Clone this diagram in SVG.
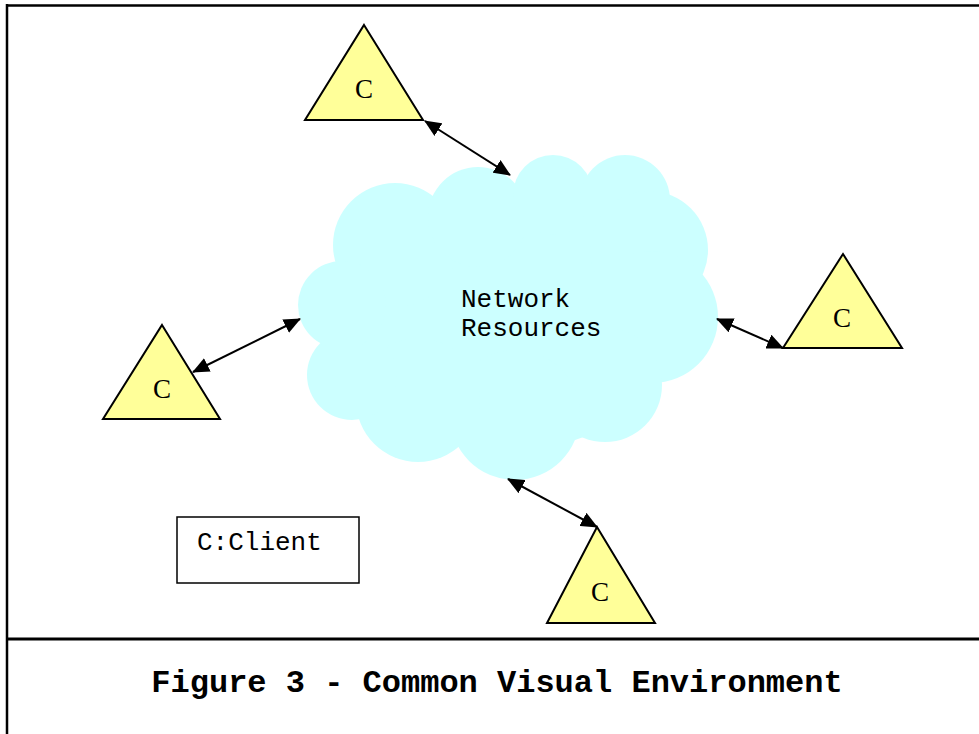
<svg xmlns="http://www.w3.org/2000/svg" width="979" height="734" viewBox="0 0 979 734">
<defs>
<style>
.frame{stroke:#000;fill:none}
.tri{fill:#FFFF99;stroke:#000;stroke-width:2;stroke-linejoin:miter}
.cloud{fill:#CCFFFF;stroke:none}
.conn{stroke:#000;stroke-width:2;fill:none;marker-start:url(#ah);marker-end:url(#ah)}
.c{font-family:"Liberation Serif","Times New Roman",serif;font-size:27px;fill:#000;text-anchor:middle}
.mono{font-family:"Liberation Mono","Courier New",monospace;font-size:26px;fill:#000}
.cap{font-family:"Liberation Mono","Courier New",monospace;font-size:32px;font-weight:bold;fill:#000;text-anchor:middle}
</style>
<marker id="ah" viewBox="0 0 17 15" refX="16" refY="7.5" markerWidth="17" markerHeight="15" markerUnits="userSpaceOnUse" orient="auto-start-reverse">
<path d="M0,0 L17,7.5 L0,15 Z" fill="#000"/>
</marker>
</defs>
<rect width="979" height="734" fill="#fff"/>
<g id="frame">
<line class="frame" x1="6" y1="5.5" x2="979" y2="5.5" stroke-width="2.5"/>
<line class="frame" x1="7" y1="4" x2="7" y2="734" stroke-width="2.5"/>
<line class="frame" x1="7" y1="639" x2="979" y2="639" stroke-width="3"/>
</g>
<g id="cloud">
<g class="cloud">
<ellipse cx="510" cy="320" rx="170" ry="130"/>
<circle cx="395" cy="245" r="62"/>
<circle cx="478" cy="217" r="50"/>
<circle cx="553" cy="195" r="40"/>
<circle cx="625" cy="200" r="45"/>
<circle cx="649" cy="250" r="59"/>
<circle cx="652" cy="317" r="66"/>
<circle cx="605" cy="385" r="57"/>
<circle cx="515" cy="415" r="65"/>
<circle cx="418" cy="400" r="62"/>
<circle cx="352" cy="375" r="45"/>
<circle cx="342" cy="305" r="44"/>
</g>
<text class="mono" x="461" y="307">Network</text>
<text class="mono" x="461" y="336">Resources</text>
</g>
<g id="client-top">
<polygon class="tri" points="364,25 423,120 305,120"/>
<text class="c" x="364" y="98">C</text>
</g>
<g id="client-left">
<polygon class="tri" points="162,325 220,419 103,419"/>
<text class="c" x="162" y="398">C</text>
</g>
<g id="client-right">
<polygon class="tri" points="843,254 902,348 783,348"/>
<text class="c" x="842" y="327">C</text>
</g>
<g id="client-bottom">
<polygon class="tri" points="597,527 655,623 547,623"/>
<text class="c" x="600" y="601">C</text>
</g>
<g id="legend">
<rect x="177" y="517" width="182" height="66" fill="#fff" stroke="#000" stroke-width="1.5"/>
<text class="mono" x="197" y="550">C:Client</text>
</g>
<g id="connectors">
<line class="conn" x1="425" y1="121" x2="510" y2="175"/>
<line class="conn" x1="193" y1="372" x2="300" y2="319"/>
<line class="conn" x1="717" y1="319" x2="783" y2="348"/>
<line class="conn" x1="508" y1="479" x2="597" y2="527"/>
</g>
<g id="caption">
<text class="cap" x="497" y="692">Figure 3 - Common Visual Environment</text>
</g>
</svg>
